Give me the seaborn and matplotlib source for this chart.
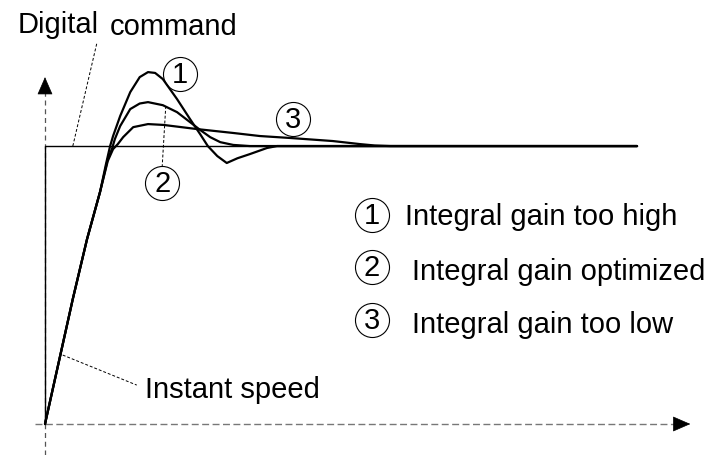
import numpy as np
import pandas as pd
import matplotlib
matplotlib.use("Agg")
import matplotlib.pyplot as plt
import seaborn as sns

# time (arbitrary units, command step ends at 100) and speed (% of command)
t_high = [0, 4.7, 7.1, 9.3, 10.3, 11.0, 11.5, 12.7, 14.4, 16.0, 17.4, 18.6, 19.9, 22.3, 24.5,
          26.2, 27.5, 29.1, 30.7, 32.5, 34.6, 37.5, 39.2, 100]
v_high = [0, 45.0, 66.5, 83.5, 93.5, 100.0, 103.6, 110.8, 119.4, 124.8, 126.6, 126.3, 124.1, 116.9, 109.7,
          104.3, 100.0, 96.4, 93.9, 95.6, 97.1, 99.3, 100.0, 100.0]

t_opt = [0, 4.7, 7.1, 9.3, 10.6, 11.3, 11.8, 12.7, 14.4, 16.0, 17.4, 19.9, 22.3, 24.5,
         26.2, 27.9, 29.6, 31.8, 34.6, 100]
v_opt = [0, 45.0, 66.5, 83.5, 95.3, 98.9, 102.5, 107.2, 113.3, 115.3, 115.8, 114.7, 112.2, 108.6,
         105.8, 103.2, 101.4, 100.4, 100.0, 100.0]

t_low = [0, 4.7, 7.1, 9.3, 10.6, 11.5, 12.3, 13.2, 14.9, 17.4, 20.0, 25.7, 31.8, 36.3,
         41.4, 48.6, 53.2, 55.7, 58.3, 100]
v_low = [0, 45.0, 66.5, 83.5, 94.6, 98.9, 100.7, 103.2, 106.8, 107.9, 107.6, 106.1, 104.7, 103.6,
         102.9, 101.8, 100.7, 100.2, 100.0, 100.0]

t_cmd = [0, 0, 100]
v_cmd = [0, 100, 100]

curve_names = ["1", "2", "3"]
legend_labels = ["Integral gain too high", "Integral gain optimized", "Integral gain too low"]

df = pd.concat([
    pd.DataFrame({"t": t_high, "v": v_high, "curve": "1"}),
    pd.DataFrame({"t": t_opt, "v": v_opt, "curve": "2"}),
    pd.DataFrame({"t": t_low, "v": v_low, "curve": "3"}),
], ignore_index=True)

sns.set_theme(style="white")
plt.rcParams["font.family"] = ["Liberation Sans", "DejaVu Sans"]
FS = 21

fig = plt.figure(figsize=(7.14, 4.56), dpi=100)
ax = fig.add_axes([0, 0, 1, 1])
ax.set_xlim(-7.60, 113.0)
ax.set_ylim(-11.15, 152.9)
ax.axis("off")

# axes (dashed with arrowheads)
ax.plot([0, 0], [-11.15, 119.5], color="#555555", lw=0.9, ls=(0, (4, 3)))
ax.plot([-1.7, 106.5], [0, 0], color="#777777", lw=1.0, ls=(0, (5, 2.5)))
ax.annotate("", xy=(0, 124.8), xytext=(0, 119.1),
            arrowprops=dict(arrowstyle="-|>,head_length=1.15,head_width=0.5",
                            mutation_scale=10, fc="black", ec="black", lw=0.5,
                            shrinkA=0, shrinkB=0))
ax.annotate("", xy=(109.0, 0), xytext=(106.3, 0),
            arrowprops=dict(arrowstyle="-|>,head_length=1.15,head_width=0.5",
                            mutation_scale=10, fc="black", ec="black", lw=0.5,
                            shrinkA=0, shrinkB=0))

# command step
sns.lineplot(x=t_cmd, y=v_cmd, ax=ax, color="black", lw=1.0, sort=False, estimator=None)

# responses
sns.lineplot(data=df, x="t", y="v", hue="curve", units="curve", estimator=None, sort=False,
             palette=["black"] * 3, lw=1.6, legend=False, ax=ax)

# leader lines
ax.plot([4.7, 8.8], [100, 137.4], color="black", lw=0.7, ls=(0, (3, 2)))
ax.plot([3.0, 15.5], [24.8, 14.0], color="black", lw=0.7, ls=(0, (3, 2)))
ax.plot([20.4, 19.8], [114.4, 92.8], color="black", lw=0.7, ls=(0, (3, 2)))

# texts
ax.text(-4.56, 141.0, "Digital", fontsize=FS, ha="left", va="baseline", color="black")
ax.text(11.0, 140.3, "command", fontsize=FS, ha="left", va="baseline", color="black")
ax.text(16.9, 9.7, "Instant speed", fontsize=FS, ha="left", va="baseline", color="black")

# circled numbers on curves
circ_pos = [(22.8, 125.9), (19.8, 86.7), (41.9, 109.7)]
for name, (cx, cy) in zip(curve_names, circ_pos):
    ax.plot([cx], [cy], marker="o", ms=24.5, mfc="none", mec="black", mew=0.8)
    ax.text(cx, cy, name, fontsize=FS, ha="center", va="center", color="black")

# legend-like list
leg_cy = [75.2, 56.5, 37.4]
leg_base = [71.9, 52.2, 33.1]
leg_tx = [60.8, 62.0, 62.0]
for name, lab, cy, by, tx in zip(curve_names, legend_labels, leg_cy, leg_base, leg_tx):
    ax.plot([55.2], [cy], marker="o", ms=24.5, mfc="none", mec="black", mew=0.8)
    ax.text(55.2, cy, name, fontsize=FS, ha="center", va="center", color="black")
    ax.text(tx, by, lab, fontsize=FS, ha="left", va="baseline", color="black")

fig.savefig("out.png", dpi=100)
